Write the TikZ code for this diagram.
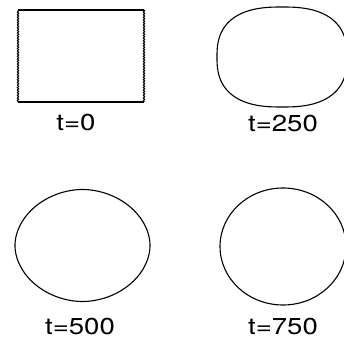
\documentclass[tikz,border=0pt]{standalone}
\usepackage{fontspec}
\newfontfamily\lblfont[FakeStretch=1.2]{TeX Gyre Heros}
\usetikzlibrary{decorations.pathmorphing}
\tikzset{
  curve/.style={line width=1.1pt, black},
  wavy/.style={line width=1.1pt, black, decorate, decoration={snake, amplitude=0.6pt, segment length=2.6pt}},
  lbl/.style={inner sep=0pt, font=\lblfont\fontsize{23}{26}\selectfont}
}
\begin{document}
\begin{tikzpicture}[x=1pt,y=-1pt]
\useasboundingbox (0,0) rectangle (344,339);
\clip (0,0) rectangle (344,339);
% t=0 : rectangle with slightly wavy vertical sides
\coordinate (r1) at (18,10);
\coordinate (r2) at (144,10);
\coordinate (r3) at (144,102);
\coordinate (r4) at (18,102);
\draw[curve] (r4) -- (r3);
\draw[curve] (r1) -- (r2);
\draw[wavy] (r1) -- (r4);
\draw[wavy] (r2) -- (r3);
% t=250 : superellipse
\draw[curve] plot[domain=0:360, samples=240, smooth cycle]
  ({282+65*(cos(\x)<0?-1:1)*pow(abs(cos(\x))+0.00001,0.78)},
   {57+50*(sin(\x)<0?-1:1)*pow(abs(sin(\x))+0.00001,0.78)});
% t=500 : slightly pointed ellipse
\draw[curve] plot[domain=0:360, samples=240, smooth cycle]
  ({82.5+67.5*(cos(\x)<0?-1:1)*pow(abs(cos(\x))+0.00001,1.04)},
   {245.5+56*(sin(\x)<0?-1:1)*pow(abs(sin(\x))+0.00001,1.04)});
% t=750 : near circle
\draw[curve] (283,246.5) ellipse [x radius=63, y radius=58.5];
% labels
\node[lbl] (l0) at (76,123) {t=0};
\node[lbl] (l250) at (283,124) {t=250};
\node[lbl] (l500) at (80,327) {t=500};
\node[lbl] (l750) at (283,327) {t=750};
\end{tikzpicture}
\end{document}
